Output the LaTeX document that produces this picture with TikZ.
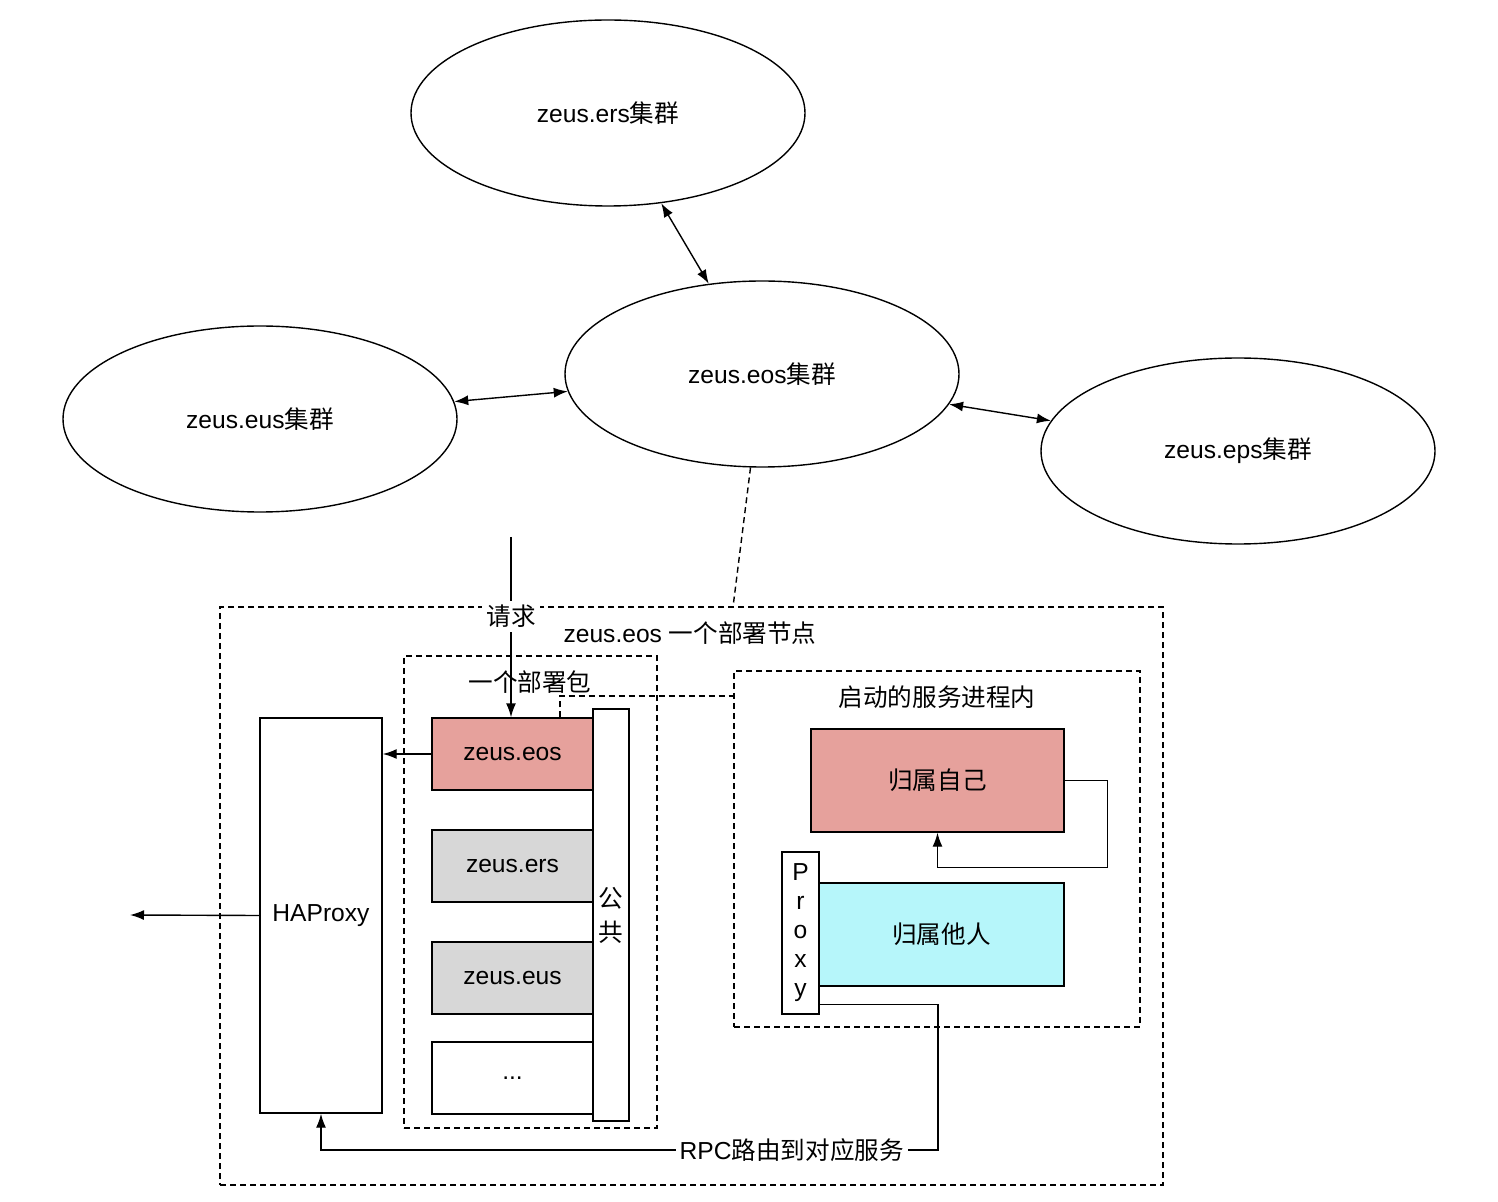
\documentclass[tikz,border=0pt]{standalone}
\usepackage{fontspec}
\setmainfont{Liberation Sans}
\newfontfamily\cjk{Noto Sans CJK SC}
\usetikzlibrary{shapes.geometric,arrows.meta,calc}
\definecolor{myred}{RGB}{230,161,156}
\definecolor{mygray}{RGB}{215,215,215}
\definecolor{mycyan}{RGB}{182,246,250}

\begin{document}
\begin{tikzpicture}
	[x=0.5pt,y=-0.5pt,line width=0.7pt,font=\fontsize{12.3}{14}\selectfont,
	every node/.style={inner sep=0pt},
	cluster/.style={ellipse,draw,minimum width=197pt,minimum height=93pt},
	frame/.style={draw,dash pattern=on 3pt off 2pt,minimum width=#1},
	pkg/.style={draw,minimum width=80.5pt,minimum height=36pt},
	lbl/.style={fill=white,inner sep=2pt},
	>={Latex[length=7pt,width=5pt]}]
	\useasboundingbox (0,0) rectangle (1498,1202);
	
	% clusters
	\node[cluster] (ers) at (608,113) {zeus.ers{\cjk 集群}};
	\node[cluster] (eos) at (762,374) {zeus.eos{\cjk 集群}};
	\node[cluster] (eus) at (260,419) {zeus.eus{\cjk 集群}};
	\node[cluster] (eps) at (1238,451) {zeus.eps{\cjk 集群}};
	
	\foreach \a/\b in {ers/eos,eus/eos,eos/eps}
	\draw[<->] (\a) -- (\b);
	
	% deploy node
	\node[frame=471.5pt,minimum height=289pt] (outer) at (691.5,896) {};
	\node[frame=126.5pt,minimum height=236pt] (pack) at (530.5,892) {};
	\node[frame=203pt,minimum height=178pt] (proc) at (937,849) {};
	\node at (690,633) {zeus.eos {\cjk 一个部署节点}};
	\node at (530,682) {\cjk 一个部署包};
	\node at (937,697) {\cjk 启动的服务进程内};
	
	\node[pkg,fill=myred] (eosbox) at (512.5,754) {\raisebox{-1.5pt}{zeus.eos}};
	\node[pkg,fill=mygray] (ersbox) at (512.5,866) {\raisebox{-1.5pt}{zeus.ers}};
	\node[pkg,fill=mygray] (eusbox) at (512.5,978) {\raisebox{-1.5pt}{zeus.eus}};
	\node[pkg] (dots) at (512.5,1078) {\raisebox{-1.5pt}{...}};
	\node[draw,fill=white,minimum width=18pt,minimum height=206pt,align=center,
	font=\cjk\fontsize{12.3}{17}\selectfont] (common) at (611,915) {公\\共};
	\node[draw,minimum width=61pt,minimum height=197.5pt] (haproxy) at (321,915.5) {\raisebox{-1.5pt}{HAProxy}};
	
	\node[draw,fill=myred,minimum width=126.5pt,minimum height=51.5pt] (self) at (937.5,780.5) {\cjk 归属自己};
	\node[draw,fill=mycyan,minimum width=122.5pt,minimum height=51.5pt] (other) at (941.5,934.5) {\cjk 归属他人};
	\node[draw,fill=white,minimum width=18.5pt,minimum height=81pt,align=center,
	font=\fontsize{12.3}{14.5}\selectfont] (proxy) at (800.5,933) {P\\r\\o\\x\\y};
	
	\coordinate (req) at (511,537);
	\coordinate (out) at (130,915);
	\coordinate (nodetop) at (733,607);
	\coordinate (procin) at (734,696);
	\coordinate (rpcturn) at (938,1150);
	
	% connectors
	\draw[dash pattern=on 3pt off 2pt] (eos.-97) -- (nodetop);
	\draw[dash pattern=on 3pt off 2pt] ($(eosbox.north)+(47.5,0)$) |- (procin);
	\draw[->] (req) -- node[lbl,pos=0.44] {\cjk 请求} (eosbox.north -| req);
	\draw[->] (eosbox.west) -- (haproxy.east |- eosbox.west);
	\draw[->] (haproxy.west) -- (out);
	\draw[->] (self.east) -- ++(43,0) |- ($(self.south)+(0,35)$) -- (self.south);
	\draw[->] ($(proxy.south east)+(0,-10)$) -| (rpcturn)
	-- node[lbl,pos=0.237] {RPC{\cjk 路由到对应服务}} (haproxy.south |- rpcturn) -- (haproxy.south);
\end{tikzpicture}
\end{document}
